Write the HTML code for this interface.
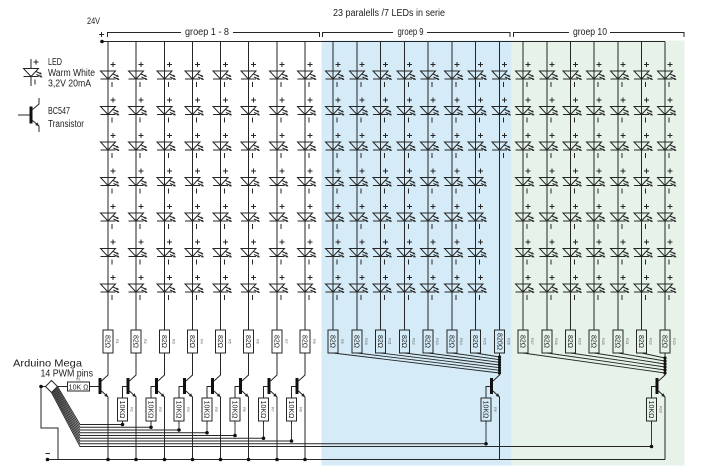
<!DOCTYPE html>
<html><head><meta charset="utf-8"><style>
html,body{margin:0;padding:0;background:#fff;}
svg{display:block;}
text{font-family:"Liberation Sans",sans-serif;fill:#1e1e1e;}
.rt{font-size:7px;text-anchor:middle;}
.rl{font-size:3.5px;text-anchor:middle;fill:#555;}
</style></head><body>
<svg width="710" height="474" viewBox="0 0 710 474" xmlns="http://www.w3.org/2000/svg" xmlns:xlink="http://www.w3.org/1999/xlink">
<defs>
<g id="led" fill="none" stroke="#262626" stroke-width="1">
 <path d="M5,-9V-4M2.5,-6.5H7.5"/>
 <path d="M-7.5,0H7.5L0,8Z"/>
 <path d="M-7.5,8H7.5"/>
 <path d="M5,3L10.5,5.5M5.5,6L11,8.5"/>
 <path d="M4,11V16"/>
 <polygon points="11,5.7 8.2,5.8 9.2,3.6" fill="#262626" stroke="none"/>
 <polygon points="11.5,8.7 8.7,8.8 9.7,6.6" fill="#262626" stroke="none"/>
</g>
<g id="c7" stroke="#262626" fill="none">
 <path d="M0,41.5V330"/>
 <use href="#led" xlink:href="#led" y="71"/>
 <use href="#led" xlink:href="#led" y="106.5"/>
 <use href="#led" xlink:href="#led" y="142"/>
 <use href="#led" xlink:href="#led" y="177.5"/>
 <use href="#led" xlink:href="#led" y="213"/>
 <use href="#led" xlink:href="#led" y="248.5"/>
 <use href="#led" xlink:href="#led" y="284"/>
 <rect x="-5" y="330" width="10" height="23"/>
</g>
<g id="c3" stroke="#262626" fill="none">
 <path d="M0,41.5V330"/>
 <use href="#led" xlink:href="#led" y="71"/>
 <use href="#led" xlink:href="#led" y="106.5"/>
 <use href="#led" xlink:href="#led" y="142"/>
 <rect x="-5" y="330" width="10" height="23"/>
</g>
<g id="tr" stroke="#262626" fill="none">
 <path d="M0,353V375L-6.5,381"/>
 <path d="M-6.5,391L0,397V459.5"/>
 <polygon points="0,397 -3.8,396 -1.35,393.3" fill="#262626" stroke="none"/>
 <rect x="-9.5" y="378" width="3" height="16" fill="#111" stroke="none"/>
</g>
<g id="trb" stroke="#262626" fill="none">
 <path d="M-9.5,386.5H-13.5V398"/>
 <rect x="-18.5" y="398" width="10" height="23"/>
 <path d="M-13.5,421V424"/>
</g>
</defs>

<!-- backgrounds -->
<rect x="321.5" y="40.5" width="190" height="425" fill="#d5ecf8"/>
<rect x="511.5" y="40.5" width="173" height="425" fill="#e7f3e9"/>

<!-- header texts -->
<text x="87" y="24" font-size="9.5" textLength="13" lengthAdjust="spacingAndGlyphs">24V</text>
<text x="333" y="16" font-size="10" textLength="112" lengthAdjust="spacingAndGlyphs">23 paralells /7 LEDs in serie</text>
<text x="185" y="35" font-size="10" textLength="44" lengthAdjust="spacingAndGlyphs">groep 1 - 8</text>
<text x="397.5" y="35" font-size="10" textLength="26" lengthAdjust="spacingAndGlyphs">groep 9</text>
<text x="573" y="35" font-size="10" textLength="34" lengthAdjust="spacingAndGlyphs">groep 10</text>

<g stroke="#262626" fill="none" stroke-width="1">
 <path d="M107.5,37V32.5H181M233,32.5H319.5V37"/>
 <path d="M322.5,37V32.5H393M427,32.5H510V37"/>
 <path d="M513.5,37V32.5H569M610,32.5H684V37"/>
 <path d="M99,34.5H104M101.5,32V37"/>
 <path d="M102,41.5H665"/>
</g>
<circle cx="102" cy="41.5" r="1.8" fill="#111"/>

<!-- legend -->
<g stroke="#262626" fill="none">
 <path d="M31,59V68.5M31,76.5V86"/>
</g>
<use href="#led" xlink:href="#led" x="31" y="68.5"/>
<text x="48" y="65" font-size="10" textLength="14" lengthAdjust="spacingAndGlyphs">LED</text>
<text x="48" y="76" font-size="10" textLength="47" lengthAdjust="spacingAndGlyphs">Warm White</text>
<text x="48" y="86.5" font-size="10" textLength="43" lengthAdjust="spacingAndGlyphs">3,2V  20mA</text>
<rect x="29.5" y="106.5" width="3" height="17" fill="#111"/>
<g stroke="#262626" fill="none">
 <path d="M18,115H29.5M32.5,109.5L39,104V98M32.5,120.5L39,126V132"/>
</g>
<polygon points="39,126 35.2,125.1 37.5,122.4" fill="#262626"/>
<text x="48" y="114" font-size="10" textLength="22" lengthAdjust="spacingAndGlyphs">BC547</text>
<text x="48" y="127" font-size="10" textLength="36" lengthAdjust="spacingAndGlyphs">Transistor</text>

<!-- columns -->
<use href="#c7" xlink:href="#c7" x="108"/>
<use href="#c7" xlink:href="#c7" x="136"/>
<use href="#c7" xlink:href="#c7" x="164.5"/>
<use href="#c7" xlink:href="#c7" x="192.5"/>
<use href="#c7" xlink:href="#c7" x="220.5"/>
<use href="#c7" xlink:href="#c7" x="248.5"/>
<use href="#c7" xlink:href="#c7" x="277"/>
<use href="#c7" xlink:href="#c7" x="305"/>
<use href="#c7" xlink:href="#c7" x="333"/>
<use href="#c7" xlink:href="#c7" x="357"/>
<use href="#c7" xlink:href="#c7" x="380.5"/>
<use href="#c7" xlink:href="#c7" x="404.5"/>
<use href="#c7" xlink:href="#c7" x="428"/>
<use href="#c7" xlink:href="#c7" x="452"/>
<use href="#c7" xlink:href="#c7" x="475.5"/>
<use href="#c3" xlink:href="#c3" x="499.5"/>
<use href="#c7" xlink:href="#c7" x="523"/>
<use href="#c7" xlink:href="#c7" x="547"/>
<use href="#c7" xlink:href="#c7" x="570.5"/>
<use href="#c7" xlink:href="#c7" x="594"/>
<use href="#c7" xlink:href="#c7" x="618"/>
<use href="#c7" xlink:href="#c7" x="641.5"/>
<use href="#c7" xlink:href="#c7" x="665"/>

<!-- resistor texts -->
<g>
<text class="rt" transform="translate(108,341.5) rotate(90)" dy="2.4">82Ω</text>
<text class="rt" transform="translate(136,341.5) rotate(90)" dy="2.4">82Ω</text>
<text class="rt" transform="translate(164.5,341.5) rotate(90)" dy="2.4">82Ω</text>
<text class="rt" transform="translate(192.5,341.5) rotate(90)" dy="2.4">82Ω</text>
<text class="rt" transform="translate(220.5,341.5) rotate(90)" dy="2.4">82Ω</text>
<text class="rt" transform="translate(248.5,341.5) rotate(90)" dy="2.4">82Ω</text>
<text class="rt" transform="translate(277,341.5) rotate(90)" dy="2.4">82Ω</text>
<text class="rt" transform="translate(305,341.5) rotate(90)" dy="2.4">82Ω</text>
<text class="rt" transform="translate(333,341.5) rotate(90)" dy="2.4">82Ω</text>
<text class="rt" transform="translate(357,341.5) rotate(90)" dy="2.4">82Ω</text>
<text class="rt" transform="translate(380.5,341.5) rotate(90)" dy="2.4">82Ω</text>
<text class="rt" transform="translate(404.5,341.5) rotate(90)" dy="2.4">82Ω</text>
<text class="rt" transform="translate(428,341.5) rotate(90)" dy="2.4">82Ω</text>
<text class="rt" transform="translate(452,341.5) rotate(90)" dy="2.4">82Ω</text>
<text class="rt" transform="translate(475.5,341.5) rotate(90)" dy="2.4">82Ω</text>
<text class="rt" transform="translate(499.5,341.5) rotate(90)" dy="2.2" font-size="6.2">820Ω</text>
<text class="rt" transform="translate(523,341.5) rotate(90)" dy="2.4">82Ω</text>
<text class="rt" transform="translate(547,341.5) rotate(90)" dy="2.4">82Ω</text>
<text class="rt" transform="translate(570.5,341.5) rotate(90)" dy="2.4">82Ω</text>
<text class="rt" transform="translate(594,341.5) rotate(90)" dy="2.4">82Ω</text>
<text class="rt" transform="translate(618,341.5) rotate(90)" dy="2.4">82Ω</text>
<text class="rt" transform="translate(641.5,341.5) rotate(90)" dy="2.4">82Ω</text>
<text class="rt" transform="translate(665,341.5) rotate(90)" dy="2.4">82Ω</text>

<text class="rl" transform="translate(116,341.5) rotate(90)">R1</text>
<text class="rl" transform="translate(144,341.5) rotate(90)">R2</text>
<text class="rl" transform="translate(172.5,341.5) rotate(90)">R3</text>
<text class="rl" transform="translate(200.5,341.5) rotate(90)">R4</text>
<text class="rl" transform="translate(228.5,341.5) rotate(90)">R5</text>
<text class="rl" transform="translate(256.5,341.5) rotate(90)">R6</text>
<text class="rl" transform="translate(285,341.5) rotate(90)">R7</text>
<text class="rl" transform="translate(313,341.5) rotate(90)">R8</text>
<text class="rl" transform="translate(341,341.5) rotate(90)">R9</text>
<text class="rl" transform="translate(365,341.5) rotate(90)">R10</text>
<text class="rl" transform="translate(388.5,341.5) rotate(90)">R11</text>
<text class="rl" transform="translate(412.5,341.5) rotate(90)">R12</text>
<text class="rl" transform="translate(436,341.5) rotate(90)">R13</text>
<text class="rl" transform="translate(460,341.5) rotate(90)">R14</text>
<text class="rl" transform="translate(483.5,341.5) rotate(90)">R15</text>
<text class="rl" transform="translate(507.5,341.5) rotate(90)">R16</text>
<text class="rl" transform="translate(531,341.5) rotate(90)">R17</text>
<text class="rl" transform="translate(555,341.5) rotate(90)">R18</text>
<text class="rl" transform="translate(578.5,341.5) rotate(90)">R19</text>
<text class="rl" transform="translate(602,341.5) rotate(90)">R20</text>
<text class="rl" transform="translate(626,341.5) rotate(90)">R21</text>
<text class="rl" transform="translate(649.5,341.5) rotate(90)">R22</text>
<text class="rl" transform="translate(673,341.5) rotate(90)">R23</text>
</g>

<!-- transistors -->
<use href="#tr" xlink:href="#tr" x="108"/>
<use href="#tr" xlink:href="#tr" x="136"/>
<use href="#tr" xlink:href="#tr" x="164.5"/>
<use href="#tr" xlink:href="#tr" x="192.5"/>
<use href="#tr" xlink:href="#tr" x="220.5"/>
<use href="#tr" xlink:href="#tr" x="248.5"/>
<use href="#tr" xlink:href="#tr" x="277"/>
<use href="#tr" xlink:href="#tr" x="305"/>
<use href="#tr" xlink:href="#tr" x="499.5"/>
<use href="#tr" xlink:href="#tr" x="665"/>
<use href="#trb" xlink:href="#trb" x="136"/>
<use href="#trb" xlink:href="#trb" x="164.5"/>
<use href="#trb" xlink:href="#trb" x="192.5"/>
<use href="#trb" xlink:href="#trb" x="220.5"/>
<use href="#trb" xlink:href="#trb" x="248.5"/>
<use href="#trb" xlink:href="#trb" x="277"/>
<use href="#trb" xlink:href="#trb" x="305"/>
<use href="#trb" xlink:href="#trb" x="499.5"/>
<use href="#trb" xlink:href="#trb" x="665"/>

<!-- 10K texts -->
<text class="rt" transform="translate(122.5,409.5) rotate(90)" dy="2.4">10KΩ</text>
<text class="rt" transform="translate(151,409.5) rotate(90)" dy="2.4">10KΩ</text>
<text class="rt" transform="translate(179,409.5) rotate(90)" dy="2.4">10KΩ</text>
<text class="rt" transform="translate(207,409.5) rotate(90)" dy="2.4">10KΩ</text>
<text class="rt" transform="translate(235,409.5) rotate(90)" dy="2.4">10KΩ</text>
<text class="rt" transform="translate(263.5,409.5) rotate(90)" dy="2.4">10KΩ</text>
<text class="rt" transform="translate(291.5,409.5) rotate(90)" dy="2.4">10KΩ</text>
<text class="rt" transform="translate(486,409.5) rotate(90)" dy="2.4">10KΩ</text>
<text class="rt" transform="translate(651.5,409.5) rotate(90)" dy="2.4">10KΩ</text>
<text class="rl" transform="translate(130.5,409.5) rotate(90)">R2</text>
<text class="rl" transform="translate(159,409.5) rotate(90)">R3</text>
<text class="rl" transform="translate(187,409.5) rotate(90)">R4</text>
<text class="rl" transform="translate(215,409.5) rotate(90)">R5</text>
<text class="rl" transform="translate(243,409.5) rotate(90)">R6</text>
<text class="rl" transform="translate(271.5,409.5) rotate(90)">R7</text>
<text class="rl" transform="translate(299.5,409.5) rotate(90)">R8</text>
<text class="rl" transform="translate(494,409.5) rotate(90)">R9</text>
<text class="rl" transform="translate(659.5,409.5) rotate(90)">R10</text>

<!-- bundle wiring -->
<g stroke="#262626" fill="none" stroke-width="0.9">
 <path d="M57.5,386.5L80,424.5H122.5V421"/>
 <path d="M56.75,387.25L80,427.25H151V421"/>
 <path d="M56,388L80,430H179V421"/>
 <path d="M55.25,388.75L80,432.75H207V421"/>
 <path d="M54.5,389.5L80,435.5H235V421"/>
 <path d="M53.75,390.25L80,438.25H263.5V421"/>
 <path d="M53,391L80,441H291.5V421"/>
 <path d="M52.25,391.75L80,443.75H486V421"/>
 <path d="M51.5,392.5L80,446.5H651.5V421"/>
</g>
<g fill="#111">
 <circle cx="122.5" cy="424.5" r="1.8"/>
 <circle cx="151" cy="427.25" r="1.8"/>
 <circle cx="179" cy="430" r="1.8"/>
 <circle cx="207" cy="432.75" r="1.8"/>
 <circle cx="235" cy="435.5" r="1.8"/>
 <circle cx="263.5" cy="438.25" r="1.8"/>
 <circle cx="291.5" cy="441" r="1.8"/>
 <circle cx="486" cy="443.75" r="1.8"/>
 <circle cx="651.5" cy="446.5" r="1.8"/>
</g>

<!-- group 9 / 10 collector bundles -->
<g stroke="#262626" fill="none" stroke-width="0.9">
 <path d="M333,353L499.5,373M357,353L499.5,370.33M380.5,353L499.5,367.67M404.5,353L499.5,365M428,353L499.5,362.33M452,353L499.5,359.67M475.5,353L499.5,357"/>
 <path d="M523,353L665,373M547,353L665,370M570.5,353L665,367M594,353L665,364M618,353L665,361M641.5,353L665,358"/>
</g>
<g fill="#111">
 <circle cx="499.5" cy="373" r="1.6"/><circle cx="499.5" cy="370.33" r="1.6"/><circle cx="499.5" cy="367.67" r="1.6"/><circle cx="499.5" cy="365" r="1.6"/><circle cx="499.5" cy="362.33" r="1.6"/><circle cx="499.5" cy="359.67" r="1.6"/><circle cx="499.5" cy="357" r="1.6"/>
 <circle cx="665" cy="373" r="1.6"/><circle cx="665" cy="370" r="1.6"/><circle cx="665" cy="367" r="1.6"/><circle cx="665" cy="364" r="1.6"/><circle cx="665" cy="361" r="1.6"/><circle cx="665" cy="358" r="1.6"/>
</g>

<!-- arduino side -->
<text x="13" y="366.5" font-size="10.5" textLength="69" lengthAdjust="spacingAndGlyphs">Arduino Mega</text>
<text x="40.5" y="376.5" font-size="10.5" textLength="52.5" lengthAdjust="spacingAndGlyphs">14 PWM pins</text>
<g stroke="#262626" fill="none">
 <path d="M41,386.5H45.5M41,386.5V428H58V459.5"/>
 <path d="M47.5,459.5H665"/>
 <path d="M45.5,453.5H50"/>
 <path d="M57.5,386.5H67.5M89.5,386.5H98.5"/>
 <rect x="67.5" y="382" width="22" height="9" fill="#fff"/>
 <path d="M51.5,380.5L57.5,386.5L51.5,392.5L45.5,386.5Z" fill="#fff"/>
</g>
<text x="78.5" y="389.3" font-size="7" text-anchor="middle">10K Ω</text>
<text x="78.5" y="380.3" class="rl">R1</text>
<g fill="#111">
 <circle cx="41" cy="386.5" r="1.8"/>
 <circle cx="47.5" cy="459.5" r="1.8"/>
 <circle cx="108" cy="459.5" r="1.8"/>
 <circle cx="136" cy="459.5" r="1.8"/>
 <circle cx="164.5" cy="459.5" r="1.8"/>
 <circle cx="192.5" cy="459.5" r="1.8"/>
 <circle cx="220.5" cy="459.5" r="1.8"/>
 <circle cx="248.5" cy="459.5" r="1.8"/>
 <circle cx="277" cy="459.5" r="1.8"/>
 <circle cx="305" cy="459.5" r="1.8"/>
</g>
</svg>
</body></html>
